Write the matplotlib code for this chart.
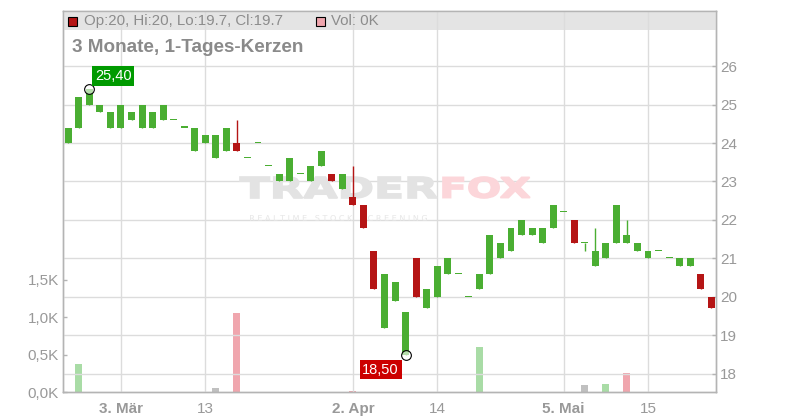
import numpy as np
import pandas as pd
import matplotlib
matplotlib.use('Agg')
import matplotlib.pyplot as plt
from matplotlib.patches import Rectangle, PathPatch
from matplotlib.textpath import TextPath
from matplotlib.font_manager import FontProperties
from matplotlib.transforms import Affine2D, IdentityTransform
from matplotlib.ticker import FuncFormatter

plt.rcParams['font.family'] = ['Liberation Sans', 'DejaVu Sans']

# trading days (German exchange, Good Friday / Easter Monday / 1 May closed)
days = pd.bdate_range('2025-02-24', '2025-05-23', freq='C',
                      holidays=['2025-04-18', '2025-04-21', '2025-05-01'])

opens = [24.0, 24.4, 25.0, 24.8, 24.4, 24.4, 24.6, 24.4, 24.4, 24.6,
         24.6, 24.4, 23.8, 24.0, 23.6, 23.8, 24.0, 23.6, 24.0, 23.4,
         23.0, 23.0, 23.2, 23.0, 23.4, 23.2, 22.8, 22.6, 22.4, 21.2,
         19.2, 19.9, 18.5, 21.0, 19.7, 20.0, 20.6, 20.6, 20.0, 20.2,
         20.6, 21.0, 21.2, 21.6, 21.6, 21.4, 21.8, 22.2, 22.0, 21.4,
         20.8, 21.0, 21.4, 21.4, 21.2, 21.0, 21.2, 21.0, 20.8, 20.8,
         20.6, 20.0]
closes = [24.4, 25.2, 25.4, 25.0, 24.8, 25.0, 24.8, 25.0, 24.8, 25.0,
          24.6, 24.4, 24.4, 24.2, 24.2, 24.4, 23.8, 23.6, 24.0, 23.4,
          23.2, 23.6, 23.2, 23.4, 23.8, 23.0, 23.2, 22.4, 21.8, 20.2,
          20.6, 20.4, 19.6, 20.0, 20.2, 20.8, 21.0, 20.6, 20.0, 20.6,
          21.6, 21.4, 21.8, 22.0, 21.8, 21.8, 22.4, 22.2, 21.4, 21.4,
          21.2, 21.4, 22.4, 21.6, 21.4, 21.2, 21.2, 21.0, 21.0, 21.0,
          20.2, 19.7]
# wicks that stick out of the body
high_wicks = {16: 24.6, 27: 23.4, 50: 21.8, 53: 22.0}
low_wicks = {49: 21.2}
# volume in thousands
volumes = [0, 0.38, 0, 0, 0, 0, 0, 0, 0, 0,
           0, 0, 0, 0, 0.06, 0, 1.05, 0, 0, 0,
           0, 0, 0, 0, 0, 0, 0, 0.015, 0, 0,
           0, 0, 0, 0, 0, 0, 0, 0, 0, 0.60,
           0, 0, 0, 0, 0, 0, 0, 0, 0, 0.10,
           0, 0.11, 0, 0.25, 0, 0, 0, 0, 0, 0,
           0, 0]

tick_dates = ['2025-03-03', '2025-03-13', '2025-04-02', '2025-04-14', '2025-05-05', '2025-05-15']
tick_labels = ['3. Mär', '13', '2. Apr', '14', '5. Mai', '15']
tick_bold = [True, False, True, False, True, False]
price_ticks = [18, 19, 20, 21, 22, 23, 24, 25, 26]
vol_ticks = [0, 0.5, 1.0, 1.5]

GREEN = '#4aae32'
RED = '#b51515'
GRID = '#dcdcdc'
SPINE = '#b4b4b4'
TXT = '#999999'

opens = np.array(opens)
closes = np.array(closes)
x = np.arange(len(days))
highs = np.maximum(opens, closes)
lows = np.minimum(opens, closes)
for k, v in high_wicks.items():
    highs[k] = v
for k, v in low_wicks.items():
    lows[k] = v

fig = plt.figure(figsize=(8, 4.2), dpi=100)
ax_vol = fig.add_axes([63 / 800, 28 / 420, 653 / 800, 381 / 420])
ax = ax_vol.twinx()

# volume bars, coloured by change of close
vol_colors = []
for i in range(len(x)):
    if i == 0 or closes[i] == closes[i - 1]:
        vol_colors.append('#c0c0c0')
    elif closes[i] > closes[i - 1]:
        vol_colors.append('#a9dca6')
    else:
        vol_colors.append('#f0a6ae')
vol = np.array(volumes)
mask = vol > 0
ax_vol.bar(x[mask], vol[mask], width=0.66, color=np.array(vol_colors)[mask], linewidth=0)
ax_vol.set_ylim(0, 5.09)
ax_vol.set_yticks(vol_ticks)
ax_vol.yaxis.set_major_formatter(FuncFormatter(lambda v, p: f'{v:.1f}K'.replace('.', ',')))

# candles
up = closes >= opens
colors = np.where(up, GREEN, RED)
body_h = np.maximum(np.abs(closes - opens), 0.03)
ax.vlines(x, lows, highs, colors=colors, linewidth=1.0, zorder=3)
ax.bar(x, body_h, bottom=np.minimum(opens, closes), width=0.66, color=colors,
       linewidth=0, zorder=4)

# high / low markers
i_hi = int(np.argmax(highs))
i_lo = int(np.argmin(lows))
ax.plot([i_hi, i_lo], [highs[i_hi], lows[i_lo]], 'o', ms=7, mfc=(1, 1, 1, 0.6),
        mec='black', mew=0.8, zorder=5)
ax.annotate(f'{highs[i_hi]:.2f}'.replace('.', ','), (i_hi, highs[i_hi]),
            xytext=(24, 13), textcoords='offset pixels', ha='center', va='center',
            color='white', fontsize=10.5, zorder=6,
            bbox=dict(boxstyle='square,pad=0.18', fc='#009a00', ec='none'))
ax.annotate(f'{lows[i_lo]:.2f}'.replace('.', ','), (i_lo, lows[i_lo]),
            xytext=(-25, -15), textcoords='offset pixels', ha='center', va='center',
            color='white', fontsize=10.5, zorder=6,
            bbox=dict(boxstyle='square,pad=0.18', fc='#cc0000', ec='none'))

# grid
tick_idx = [days.get_loc(pd.Timestamp(d)) for d in tick_dates]
for t in tick_idx:
    ax.axvline(t, color=GRID, linewidth=1, zorder=0.6)
ax.set_yticks(price_ticks)
ax.grid(axis='y', color=GRID, linewidth=1)
ax.set_axisbelow(True)
ax.set_ylim(17.53, 27.43)
ax.set_xlim(-0.5, 61.45)

# header band
ax.add_patch(Rectangle((0, 1 - 19 / 381), 1, 19 / 381, transform=ax.transAxes,
                       fc='#e4e4e4', ec='none', zorder=0.1))


# watermark
def watermark(s, x0, x1, y_top, y_bot, color, weight='bold', lw=1.2):
    tp = TextPath((0, 0), s, size=1, prop=FontProperties(family='DejaVu Sans', weight=weight))
    ext = tp.get_extents()
    tr = (Affine2D().translate(-ext.x0, -ext.y0)
          .scale((x1 - x0) / ext.width, (y_bot - y_top) / ext.height)
          .translate(x0, 420 - y_bot) + IdentityTransform())
    ax.add_artist(PathPatch(tp, transform=tr, fc=color, ec=color, lw=lw, zorder=1))


watermark('TRADER', 240, 437, 177, 198, '#e3e3e3')
watermark('FOX', 443, 530, 177, 198, '#fcd6da')
watermark('R E A L T I M E   S T O C K   S C R E E N I N G', 250, 427, 215, 221,
          '#e6e6e6', weight='normal', lw=0)

# axes styling
ax_vol.set_xticks(tick_idx)
ax_vol.set_xticklabels(tick_labels)
for lab, b in zip(ax_vol.get_xticklabels(), tick_bold):
    lab.set_fontweight('bold' if b else 'normal')
ax_vol.tick_params(axis='x', length=0, pad=7, labelsize=11, labelcolor=TXT)
ax_vol.tick_params(axis='y', direction='in', length=3, width=1, color=SPINE,
                   pad=3, labelsize=11, labelcolor=TXT)
ax.tick_params(axis='y', direction='in', length=3, width=1, color=SPINE,
               pad=3, labelsize=11, labelcolor=TXT)
for a in (ax, ax_vol):
    for sp in a.spines.values():
        sp.set_color(SPINE)
        sp.set_linewidth(1)

# header texts
fig.add_artist(Rectangle((68 / 800, 1 - 26 / 420), 9 / 800, 9 / 420, transform=fig.transFigure,
                         fc=RED, ec='black', lw=0.8))
fig.text(84 / 800, 1 - 21 / 420,
         f'Op:{opens[-1]:g}, Hi:{highs[-1]:g}, Lo:{lows[-1]:g}, Cl:{closes[-1]:g}',
         fontsize=10.8, color='#8c8c8c', va='center')
fig.add_artist(Rectangle((316 / 800, 1 - 26 / 420), 9 / 800, 9 / 420, transform=fig.transFigure,
                         fc='#f0a6ae', ec='black', lw=0.8))
fig.text(331 / 800, 1 - 21 / 420, f'Vol: {vol[-1]:g}K', fontsize=10.8, color='#8c8c8c', va='center')
fig.text(72 / 800, 1 - 48 / 420, '3 Monate, 1-Tages-Kerzen', fontsize=13.6,
         fontweight='bold', color='#8a8a8a', va='center')

fig.savefig('out.png', dpi=100)
